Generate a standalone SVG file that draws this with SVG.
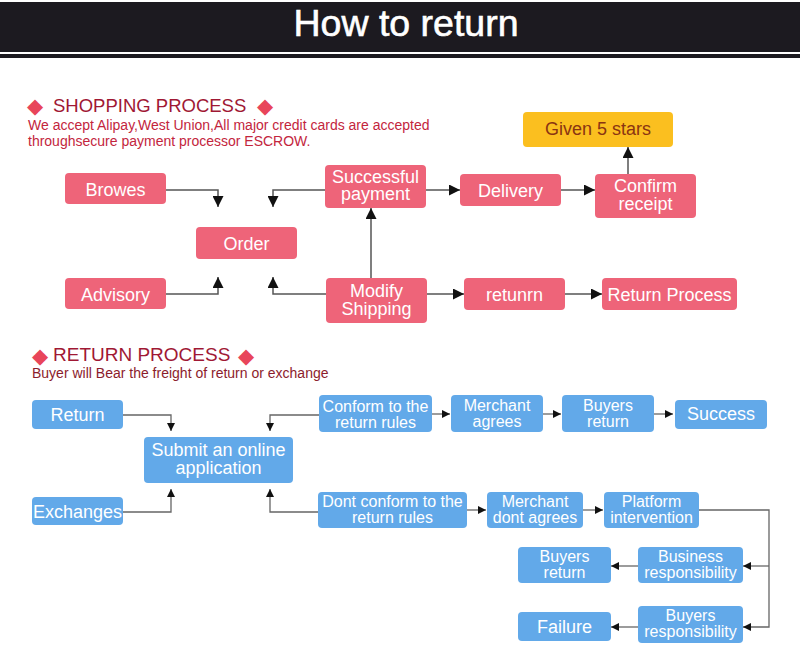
<svg xmlns="http://www.w3.org/2000/svg" width="800" height="654" viewBox="0 0 800 654">
<style>
text{font-family:"Liberation Sans",Arial,"DejaVu Sans",sans-serif}
.p{fill:#ee6479}
.b{fill:#62a9e9}
.t{fill:#ffffff;font-size:18px;text-anchor:middle}
.s{fill:#ffffff;font-size:16px;text-anchor:middle}
.h{font-size:18.5px;fill:#a01834}
.dm{fill:#e8455a;font-family:"DejaVu Sans",sans-serif;font-size:21px}
.c{fill:none;stroke:#555555;stroke-width:1.5}
.c2{fill:none;stroke:#666666;stroke-width:1.3}
</style>
<defs>
<marker id="ah" markerUnits="userSpaceOnUse" markerWidth="11" markerHeight="11" viewBox="0 0 11 11" refX="11" refY="5.5" orient="auto"><path d="M0,0 L11,5.5 L0,11 Z" fill="#111111"/></marker>
<marker id="as" markerUnits="userSpaceOnUse" markerWidth="8" markerHeight="8" viewBox="0 0 8 8" refX="8" refY="4" orient="auto"><path d="M0,0 L8,4 L0,8 Z" fill="#111111"/></marker>
</defs>
<rect width="800" height="654" fill="#ffffff"/>
<g id="header">
<rect x="0" y="2" width="800" height="50" fill="#1c1a20"/>
<rect x="0" y="54" width="800" height="4" fill="#1c1a20"/>
<text x="406" y="36" fill="#ffffff" font-size="37.5" text-anchor="middle" stroke="#ffffff" stroke-width="0.6">How to return</text>
</g>
<g id="shopping-heading">
<text class="h" y="111.5"><tspan class="dm" x="27" y="113">◆</tspan><tspan x="53" y="111.5">SHOPPING PROCESS</tspan><tspan class="dm" x="257" y="113">◆</tspan></text>
<text x="28" y="129.5" font-size="14" fill="#c3253d">We accept Alipay,West Union,All major credit cards are accepted</text>
<text x="28" y="145.5" font-size="14" fill="#c3253d">throughsecure payment processor ESCROW.</text>
</g>
<g id="connectors">
<path class="c" d="M166,190 H218 V207" marker-end="url(#ah)"/>
<path class="c" d="M325,190 H273 V207" marker-end="url(#ah)"/>
<path class="c" d="M166,294 H218 V277" marker-end="url(#ah)"/>
<path class="c" d="M326,294 H273 V277" marker-end="url(#ah)"/>
<path class="c" d="M371,278 V208" marker-end="url(#ah)"/>
<path class="c" d="M426,190 H460" marker-end="url(#ah)"/>
<path class="c" d="M561,190 H595" marker-end="url(#ah)"/>
<path class="c" d="M628,174 V147" marker-end="url(#ah)"/>
<path class="c" d="M427,294 H464" marker-end="url(#ah)"/>
<path class="c" d="M565,294 H602" marker-end="url(#ah)"/>
<path class="c2" d="M123,415 H171 V431" marker-end="url(#as)"/>
<path class="c2" d="M319,415 H270 V431" marker-end="url(#as)"/>
<path class="c2" d="M123,512 H171 V489" marker-end="url(#as)"/>
<path class="c2" d="M318,512 H270 V489" marker-end="url(#as)"/>
<path class="c2" d="M432,414 H450" marker-end="url(#as)"/>
<path class="c2" d="M543,414 H561" marker-end="url(#as)"/>
<path class="c2" d="M654,414 H673" marker-end="url(#as)"/>
<path class="c2" d="M467,510 H486" marker-end="url(#as)"/>
<path class="c2" d="M583,510 H603" marker-end="url(#as)"/>
<path class="c2" d="M699,510 H769 V627 H743" marker-end="url(#as)"/>
<path class="c2" d="M769,566 H743" marker-end="url(#as)"/>
<path class="c2" d="M638,566 H611" marker-end="url(#as)"/>
<path class="c2" d="M638,627 H611" marker-end="url(#as)"/>
</g>
<g id="browes"><rect class="p" x="65" y="173" width="101" height="31" rx="4"/><text class="t" x="115.5" y="196">Browes</text></g>
<g id="order"><rect class="p" x="196" y="227" width="101" height="32" rx="4"/><text class="t" x="246.5" y="250">Order</text></g>
<g id="advisory"><rect class="p" x="65" y="278" width="101" height="31" rx="4"/><text class="t" x="115.5" y="301">Advisory</text></g>
<g id="successful-payment"><rect class="p" x="325" y="165" width="101" height="43" rx="4"/><text class="t"><tspan x="375.5" y="183">Successful</tspan><tspan x="375.5" y="200">payment</tspan></text></g>
<g id="modify-shipping"><rect class="p" x="326" y="278" width="101" height="45" rx="4"/><text class="t"><tspan x="376.5" y="297">Modify</tspan><tspan x="376.5" y="315">Shipping</tspan></text></g>
<g id="delivery"><rect class="p" x="460" y="174" width="101" height="32" rx="4"/><text class="t" x="510.5" y="196.5">Delivery</text></g>
<g id="confirm-receipt"><rect class="p" x="595" y="174" width="101" height="44" rx="4"/><text class="t"><tspan x="645.5" y="192">Confirm</tspan><tspan x="645.5" y="210">receipt</tspan></text></g>
<g id="given-5-stars"><rect x="523" y="112" width="150" height="35" rx="4" fill="#fbbf1f"/><text class="t" x="598" y="135" style="fill:#8a3412">Given 5 stars</text></g>
<g id="retunrn"><rect class="p" x="464" y="278" width="101" height="32" rx="4"/><text class="t" x="514.5" y="300.5">retunrn</text></g>
<g id="return-process"><rect class="p" x="602" y="278" width="135" height="32" rx="4"/><text class="t" x="669.5" y="300.5">Return Process</text></g>
<g id="return-heading">
<text class="h" y="361"><tspan class="dm" x="32" y="362.5">◆</tspan><tspan x="53" y="361" font-size="19">RETURN PROCESS</tspan><tspan class="dm" x="238" y="362.5">◆</tspan></text>
<text x="32" y="378" font-size="14" fill="#8c1c2c">Buyer will Bear the freight of return or exchange</text>
</g>
<g id="return"><rect class="b" x="32" y="400" width="91" height="29" rx="4"/><text class="t" x="77.5" y="421">Return</text></g>
<g id="submit"><rect class="b" x="144" y="437" width="149" height="46" rx="4"/><text class="t"><tspan x="218.5" y="456">Submit an online</tspan><tspan x="218.5" y="474">application</tspan></text></g>
<g id="exchanges"><rect class="b" x="32" y="497" width="91" height="28" rx="4"/><text class="t" x="77.5" y="518">Exchanges</text></g>
<g id="conform"><rect class="b" x="319" y="395" width="113" height="37" rx="4"/><text class="s"><tspan x="375.5" y="412">Conform to the</tspan><tspan x="375.5" y="428">return rules</tspan></text></g>
<g id="merchant-agrees"><rect class="b" x="451" y="395" width="92" height="37" rx="4"/><text class="s"><tspan x="497" y="411">Merchant</tspan><tspan x="497" y="427">agrees</tspan></text></g>
<g id="buyers-return-1"><rect class="b" x="562" y="395" width="92" height="37" rx="4"/><text class="s"><tspan x="608" y="411">Buyers</tspan><tspan x="608" y="427">return</tspan></text></g>
<g id="success"><rect class="b" x="675" y="400" width="92" height="29" rx="4"/><text class="t" x="721" y="420">Success</text></g>
<g id="dont-conform"><rect class="b" x="318" y="492" width="149" height="36" rx="4"/><text class="s"><tspan x="392.5" y="507">Dont conform to the</tspan><tspan x="392.5" y="523">return rules</tspan></text></g>
<g id="merchant-dont-agrees"><rect class="b" x="487" y="492" width="96" height="36" rx="4"/><text class="s"><tspan x="535" y="507">Merchant</tspan><tspan x="535" y="523">dont agrees</tspan></text></g>
<g id="platform-intervention"><rect class="b" x="604" y="492" width="95" height="36" rx="4"/><text class="s"><tspan x="651.5" y="507">Platform</tspan><tspan x="651.5" y="523">intervention</tspan></text></g>
<g id="buyers-return-2"><rect class="b" x="518" y="547" width="93" height="36" rx="4"/><text class="s"><tspan x="564.5" y="562">Buyers</tspan><tspan x="564.5" y="578">return</tspan></text></g>
<g id="business-responsibility"><rect class="b" x="638" y="547" width="105" height="36" rx="4"/><text class="s"><tspan x="690.5" y="562">Business</tspan><tspan x="690.5" y="578">responsibility</tspan></text></g>
<g id="failure"><rect class="b" x="518" y="612" width="93" height="29" rx="4"/><text class="t" x="564.5" y="633">Failure</text></g>
<g id="buyers-responsibility"><rect class="b" x="638" y="606" width="105" height="37" rx="4"/><text class="s"><tspan x="690.5" y="621">Buyers</tspan><tspan x="690.5" y="637">responsibility</tspan></text></g>
</svg>
